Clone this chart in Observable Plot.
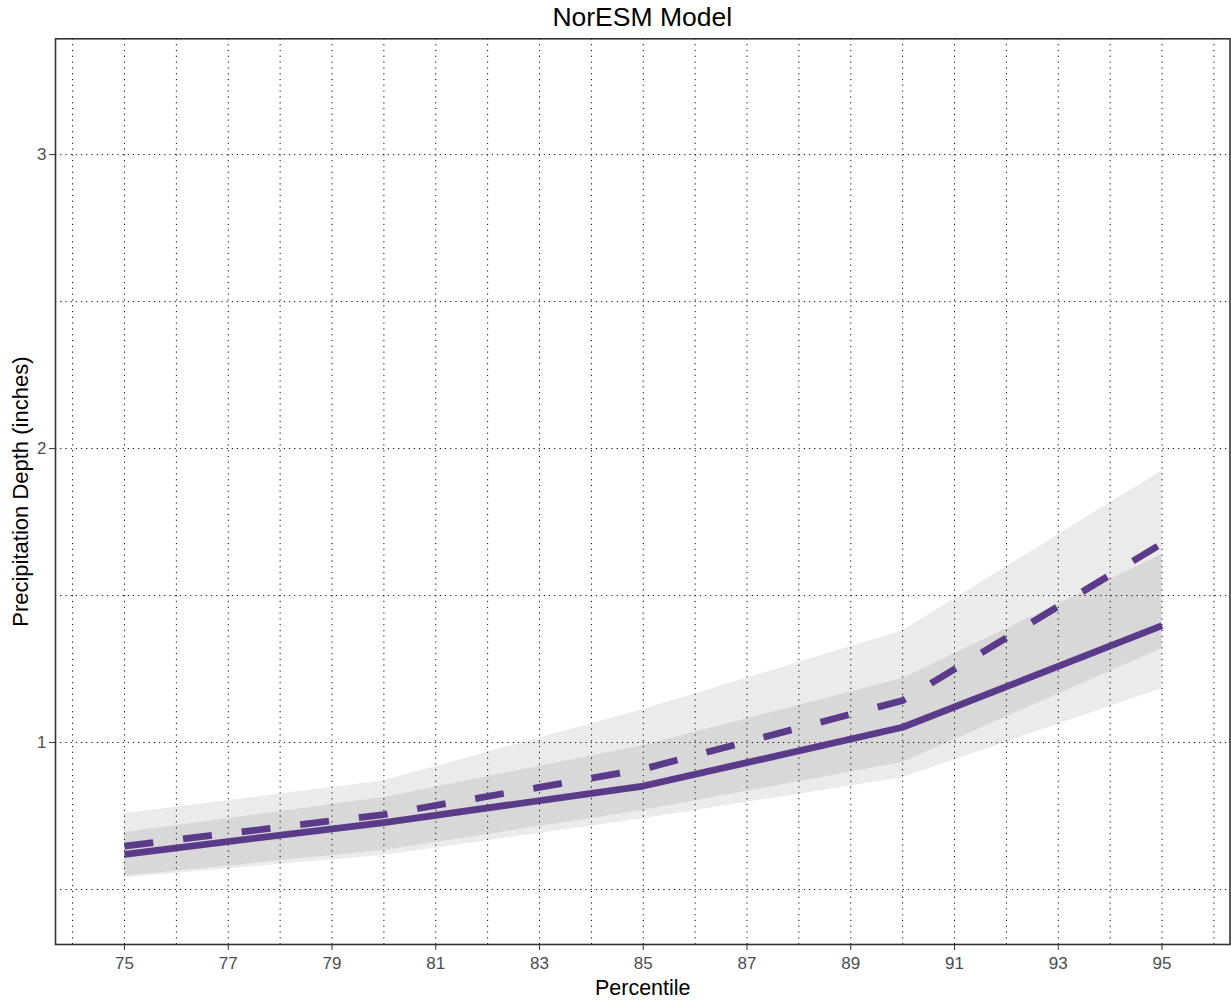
<!DOCTYPE html>
<html><head><meta charset="utf-8">
<script src="https://cdn.jsdelivr.net/npm/d3@7"></script>
<script src="https://cdn.jsdelivr.net/npm/@observablehq/plot@0.6"></script>
<style>
body{margin:0;background:#fff;font-family:"Liberation Sans",Arial,Helvetica,sans-serif;}
#title{box-sizing:border-box;width:1231px;height:37px;line-height:35px;font-size:26.5px;text-align:center;padding-left:55px;padding-right:1.5px;color:#000;}
#chart svg{display:block;}
</style></head><body>
<div id="title">NorESM Model</div>
<div id="chart"></div>
<script>
// Data
const percentile = [75, 80, 85, 90, 95];
const solidDepth = [0.62, 0.728, 0.852, 1.052, 1.398];
const dashedDepth = [0.648, 0.755, 0.91, 1.143, 1.677];
const solidLower = [0.540, 0.616, 0.741, 0.88, 1.184];
const solidUpper = [0.694, 0.813, 0.99, 1.218, 1.64];
const dashedLower = [0.545, 0.633, 0.769, 0.932, 1.32];
const dashedUpper = [0.758, 0.87, 1.112, 1.38, 1.925];

const xTicks = [75, 77, 79, 81, 83, 85, 87, 89, 91, 93, 95];
const xGrid = [74, 75, 76, 77, 78, 79, 80, 81, 82, 83, 84, 85, 86, 87, 88, 89, 90, 91, 92, 93, 94, 95, 96];
const yTicks = [1, 2, 3];
const yGrid = [0.5, 1, 1.5, 2, 2.5, 3];

const xLabel = "Percentile";
const yLabel = "Precipitation Depth (inches)";

const solidData = percentile.map((p, i) => ({p, y: solidDepth[i], lo: solidLower[i], hi: solidUpper[i]}));
const dashedData = percentile.map((p, i) => ({p, y: dashedDepth[i], lo: dashedLower[i], hi: dashedUpper[i]}));

const lineColor = "#5c3a8a";
const font = '"Liberation Sans", Arial, Helvetica, sans-serif';

const chart = Plot.plot({
  width: 1231,
  height: 966,
  marginTop: 1.3,
  marginBottom: 59,
  marginLeft: 55,
  marginRight: 1.5,
  style: {fontFamily: font, background: "#fff", color: "#4d4d4d"},
  x: {domain: [73.67, 96.31], label: null},
  y: {domain: [0.313, 3.394], label: null},
  marks: [
    Plot.ruleX(xGrid, {x: d => d, stroke: "#000", strokeWidth: 1, strokeDasharray: "1.2,4.6"}),
    Plot.ruleY(yGrid, {y: d => d, stroke: "#000", strokeWidth: 1, strokeDasharray: "1.2,4"}),
    Plot.areaY(solidData, {x: "p", y1: "lo", y2: "hi", fill: "#000", fillOpacity: 0.08}),
    Plot.areaY(dashedData, {x: "p", y1: "lo", y2: "hi", fill: "#000", fillOpacity: 0.08}),
    Plot.line(solidData, {x: "p", y: "y", stroke: lineColor, strokeWidth: 6.8, strokeLinecap: "butt", strokeLinejoin: "round"}),
    Plot.line(dashedData, {x: "p", y: "y", stroke: lineColor, strokeWidth: 6.8, strokeLinecap: "butt", strokeLinejoin: "round", strokeDasharray: "29,30"}),
    Plot.frame({stroke: "#333", strokeWidth: 1.6}),
    Plot.axisX({ticks: xTicks, tickSize: 6, tickPadding: 6, fontSize: 17, stroke: "#333", fill: "#4d4d4d", label: null, tickFormat: d => String(d)}),
    Plot.axisY({ticks: yTicks, tickSize: 6, tickPadding: 3, fontSize: 17, stroke: "#333", fill: "#4d4d4d", label: null, tickFormat: d => String(d)}),
    Plot.text([xLabel], {text: d => d, frameAnchor: "bottom", dy: 50, fontSize: 21.5, fill: "#000"}),
    Plot.text([yLabel], {text: d => d, frameAnchor: "left", textAnchor: "middle", dx: -35, rotate: -90, fontSize: 22, fill: "#000"})
  ]
});
document.getElementById("chart").appendChild(chart);
</script>
</body></html>
